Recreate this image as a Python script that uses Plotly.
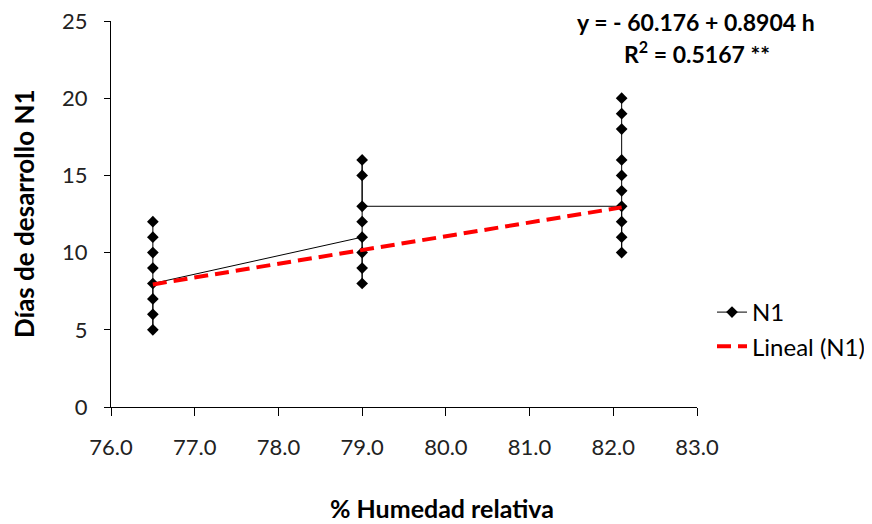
import plotly.graph_objects as go

# Data
humedad = [76.5, 76.5, 76.5, 76.5, 76.5, 76.5, 76.5, 76.5,
           79.0, 79.0, 79.0, 79.0, 79.0, 79.0, 79.0, 79.0,
           82.1, 82.1, 82.1, 82.1, 82.1, 82.1, 82.1, 82.1, 82.1, 82.1]
dias_n1 = [12, 11, 10, 9, 5, 6, 7, 8,
           11, 8, 9, 10, 12, 16, 15, 13,
           13, 10, 11, 12, 14, 15, 16, 18, 19, 20]

trend_x = [76.5, 82.1]
trend_y = [7.94, 12.93]

x_ticks = [76, 77, 78, 79, 80, 81, 82, 83]
y_ticks = [0, 5, 10, 15, 20, 25]

equation_text = "y = - 60.176 + 0.8904 h"
r2_text = "R<sup>2</sup> = 0.5167 **"

FONT = "Lato"

# page body adds an 8px offset; plot area in figure coords
L, T, R, B = 103, 13, 689, 399
W, H = 864, 516

def px(x):
    return (x - L) / (R - L)

def py(y):
    return (B - y) / (B - T)

fig = go.Figure()
fig.add_trace(go.Scatter(
    x=humedad, y=dias_n1, mode="lines+markers", name="N1",
    line=dict(color="black", width=1),
    marker=dict(symbol="diamond", size=9, color="black"),
))
fig.add_trace(go.Scatter(
    x=trend_x, y=trend_y, mode="lines", name="Lineal (N1)",
    line=dict(color="#ff0000", width=4, dash="14px,7px"),
))

fig.update_layout(
    width=W, height=H,
    margin=dict(l=L, r=W - R, t=T, b=H - B, autoexpand=False),
    paper_bgcolor="white", plot_bgcolor="white",
    font=dict(family=FONT, color="black", size=20),
    showlegend=True,
    legend=dict(x=px(704), y=py(282), xanchor="left", yanchor="top",
                font=dict(family=FONT, size=24, color="black"),
                bgcolor="rgba(0,0,0,0)", tracegroupgap=0),
    xaxis=dict(range=[76, 83], tickvals=x_ticks, tickformat=".1f",
               showgrid=False, zeroline=False, showline=True,
               linecolor="black", linewidth=1,
               ticks="outside", ticklen=8, tickcolor="black",
               ticklabelstandoff=13, ticklabeloverflow="allow",
               tickfont=dict(family=FONT, size=22, color="#222")),
    yaxis=dict(range=[0, 25], tickvals=y_ticks,
               showgrid=False, zeroline=False, showline=True,
               linecolor="black", linewidth=1,
               ticks="outside", ticklen=6, tickcolor="black",
               ticklabelstandoff=12, ticklabeloverflow="allow",
               tickfont=dict(family=FONT, size=22, color="#222")),
    annotations=[
        dict(text="<b>% Humedad relativa</b>", xref="paper", yref="paper",
             x=px(434), y=py(500), xanchor="center", yanchor="middle",
             showarrow=False, font=dict(family=FONT, size=25, color="black")),
        dict(text="<b>Días de desarrollo N1</b>", xref="paper", yref="paper",
             x=px(16), y=0.5, xanchor="center", yanchor="middle",
             textangle=-90, showarrow=False,
             font=dict(family=FONT, size=26, color="black")),
        dict(text="<b>" + equation_text + "</b>", xref="paper", yref="paper",
             x=px(688), y=py(14), xanchor="center", yanchor="middle",
             showarrow=False, font=dict(family=FONT, size=23, color="black")),
        dict(text="<b>" + r2_text + "</b>", xref="paper", yref="paper",
             x=px(689), y=py(45), xanchor="center", yanchor="middle",
             showarrow=False, font=dict(family=FONT, size=23, color="black")),
    ],
)

fig.write_html("out.html")
